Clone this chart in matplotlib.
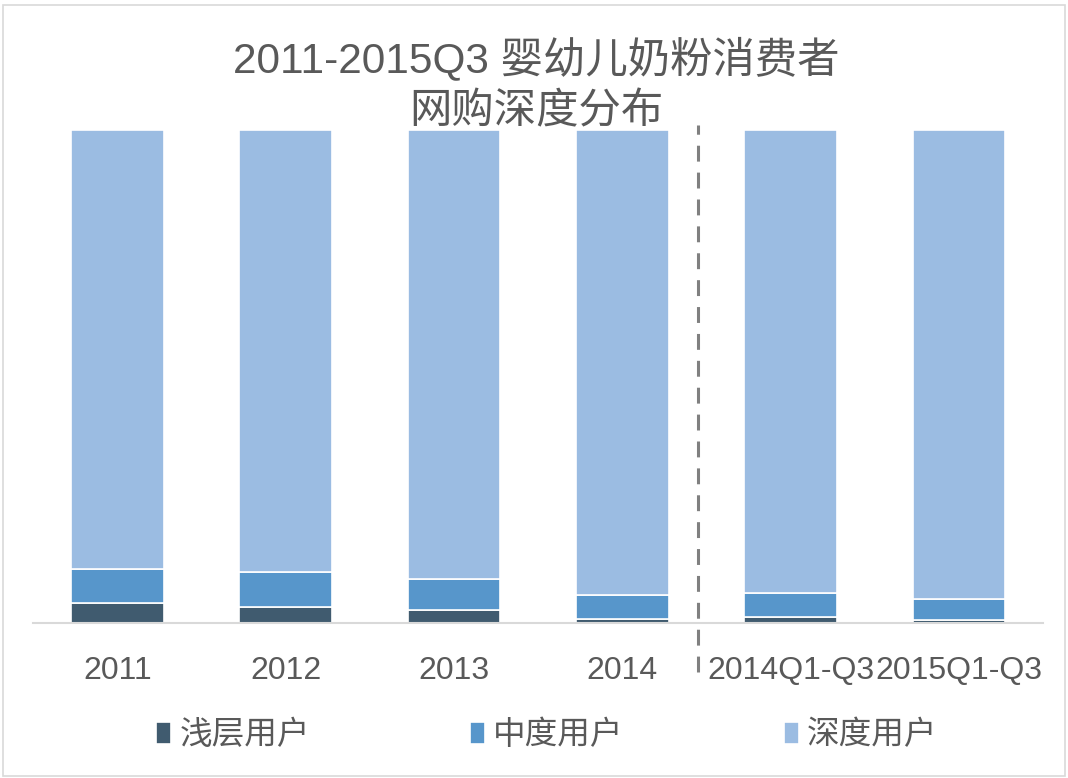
import matplotlib
matplotlib.use("Agg")
import matplotlib.pyplot as plt
import matplotlib.transforms as mtransforms
from matplotlib.patches import Rectangle
import numpy as np

plt.rcParams["font.family"] = ["Liberation Sans", "Noto Sans CJK SC", "DejaVu Sans"]

# share of users by depth of online shopping, percent
periods = ["2011", "2012", "2013", "2014", "2014Q1-Q3", "2015Q1-Q3"]
shallow = [4.1, 3.2, 2.6, 0.9, 1.2, 0.6]
medium = [6.9, 7.1, 6.3, 4.7, 4.9, 4.3]
deep = [89.0, 89.7, 91.1, 94.4, 93.9, 95.1]
series_names = ["浅层用户", "中度用户", "深度用户"]
colors = ["#405B6F", "#5796CB", "#9BBCE2"]
divider_at = 3.45

text_color = "#595959"

fig = plt.figure(figsize=(10.68, 7.78), dpi=100)
ax = fig.add_axes([0.031, 0.1992, 0.9457, 0.6337])

x = np.arange(len(periods))
bottom = np.zeros(len(periods))
handles = []
for name, vals, col in zip(series_names, [shallow, medium, deep], colors):
    bars = ax.bar(x, vals, width=0.55, bottom=bottom, color=col,
                  edgecolor="white", linewidth=1.2, label=name)
    bottom += np.array(vals)
    handles.append(bars)

ax.set_xlim(-0.5, len(periods) - 0.5)
ax.set_ylim(0, 100)
ax.set_yticks([])
ax.set_xticks(x)
ax.set_xticklabels(periods, fontsize=23, color=text_color)
ax.tick_params(axis="x", length=0, pad=24)
for side in ["left", "right", "top"]:
    ax.spines[side].set_visible(False)
ax.spines["bottom"].set_color("#d9d9d9")
ax.spines["bottom"].set_linewidth(1.5)

# dashed divider between yearly and Q1-Q3 data
trans = mtransforms.blended_transform_factory(ax.transData, ax.transAxes)
ax.plot([divider_at, divider_at], [-0.1, 1.01], transform=trans, color="#808080",
        linewidth=2.2, dashes=(5.2, 3.6), clip_on=False)

fig.text(0.502, 0.891, "2011-2015Q3 婴幼儿奶粉消费者\n网购深度分布", ha="center", va="center",
         fontsize=30.5, color=text_color, linespacing=1.38)

leg = fig.legend(handles, series_names, loc="center", bbox_to_anchor=(0.512, 0.054),
                 ncol=3, frameon=False, fontsize=23.5, handlelength=0.46, handleheight=0.7,
                 handletextpad=0.25, columnspacing=4.9)
for t in leg.get_texts():
    t.set_color(text_color)

fig.patches.append(Rectangle((0.003, 0.003), 0.994, 0.991, transform=fig.transFigure,
                             fill=False, edgecolor="#d9d9d9", linewidth=1.2))

fig.savefig("out.png", dpi=100)
